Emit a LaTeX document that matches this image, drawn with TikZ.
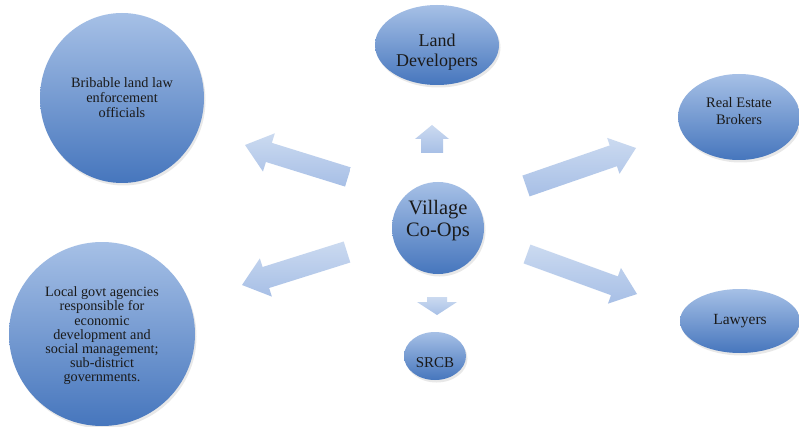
\documentclass[tikz,border=0pt]{standalone}
\usepackage{fontspec}
\setmainfont{Liberation Serif}
\usetikzlibrary{calc,shapes.geometric,shadows}
\definecolor{ctop}{HTML}{A6C0E6}
\definecolor{cbot}{HTML}{4676BD}
\definecolor{atop}{HTML}{CBDAF0}
\definecolor{abot}{HTML}{A7BFE6}
\definecolor{txt}{HTML}{1A1A1A}
\tikzset{
  bubble/.style={ellipse, inner sep=0pt, top color=ctop, bottom color=cbot,
    draw=none, drop shadow={opacity=0.18, shadow xshift=1.5pt, shadow yshift=-2.5pt}},
  btext/.style={inner sep=0pt, text=txt, align=center}
}
\newcommand\blockarrow[5]{%
  \shade[top color=atop, bottom color=abot, draw=none] let \p1=($(#2)-(#1)$), \n1={atan2(\y1,\x1)} in
    ($(#1)+(\n1+90:#3)$) --
    ($(#2)+(\n1+180:#5)+(\n1+90:#3)$) --
    ($(#2)+(\n1+180:#5)+(\n1+90:#4)$) --
    (#2) --
    ($(#2)+(\n1+180:#5)+(\n1-90:#4)$) --
    ($(#2)+(\n1+180:#5)+(\n1-90:#3)$) --
    ($(#1)+(\n1-90:#3)$) -- cycle;}
\begin{document}
\begin{tikzpicture}[x=1pt,y=1pt]
\useasboundingbox (0,0) rectangle (799,426);
\fill[white] (0,0) rectangle (799,426);
\begin{scope}
\clip (0,0) rectangle (799,426);
% bubbles
\node[bubble, minimum width=164pt, minimum height=170pt] (brib) at (122,328) {};
\node[bubble, minimum width=186pt, minimum height=184pt] (local) at (102,92) {};
\node[bubble, minimum width=124pt, minimum height=80pt] (land) at (437,381) {};
\node[bubble, minimum width=92pt, minimum height=92pt] (village) at (438,198) {};
\node[bubble, minimum width=122pt, minimum height=86pt] (realestate) at (739,309) {};
\node[bubble, minimum width=120pt, minimum height=64pt] (lawyers) at (740,105) {};
\node[bubble, minimum width=62pt, minimum height=48pt] (srcb) at (435,70) {};
% texts
\node[btext, font={\fontsize{14.3}{15}\selectfont}] (bribtxt) at ([yshift=0pt]brib.center)
  {Bribable land law\\enforcement\\officials};
\node[btext, font={\fontsize{14.2}{14.2}\selectfont}] (localtxt) at ([yshift=-2pt]local.center)
  {Local govt agencies\\responsible for\\economic\\development and\\social management;\\sub-district\\governments.};
\node[btext, font={\fontsize{18}{20}\selectfont}] (landtxt) at ([yshift=-7pt]land.center)
  {Land\\Developers};
\node[btext, font={\fontsize{20.5}{22}\selectfont}] (villagetxt) at ([yshift=7pt]village.center)
  {Village\\Co-Ops};
\node[btext, font={\fontsize{14.5}{17}\selectfont}] (realestatetxt) at ([yshift=6pt]realestate.center)
  {Real Estate\\Brokers};
\node[btext, font={\fontsize{15.5}{17}\selectfont}] (lawyerstxt) at ([yshift=0pt]lawyers.center)
  {Lawyers};
\node[btext, font={\fontsize{15}{16}\selectfont}] (srcbtxt) at ([yshift=-7pt]srcb.center)
  {SRCB};
% arrow end points
\coordinate (ulT) at (348,249); \coordinate (ulH) at (245,281);
\coordinate (llT) at (347,174); \coordinate (llH) at (242,141);
\coordinate (urT) at (526,240); \coordinate (urH) at (636,278);
\coordinate (lrT) at (527,172); \coordinate (lrH) at (637,132);
\coordinate (upT) at (432,273); \coordinate (upH) at (432,301);
\coordinate (dnT) at (437,129); \coordinate (dnH) at (437,111);
\blockarrow{ulT}{ulH}{10pt}{20pt}{25pt}
\blockarrow{llT}{llH}{11pt}{20pt}{25pt}
\blockarrow{urT}{urH}{11pt}{19pt}{24pt}
\blockarrow{lrT}{lrH}{10pt}{19pt}{24pt}
\blockarrow{upT}{upH}{11pt}{17pt}{14pt}
\blockarrow{dnT}{dnH}{10pt}{20pt}{13pt}
\end{scope}
\end{tikzpicture}
\end{document}
